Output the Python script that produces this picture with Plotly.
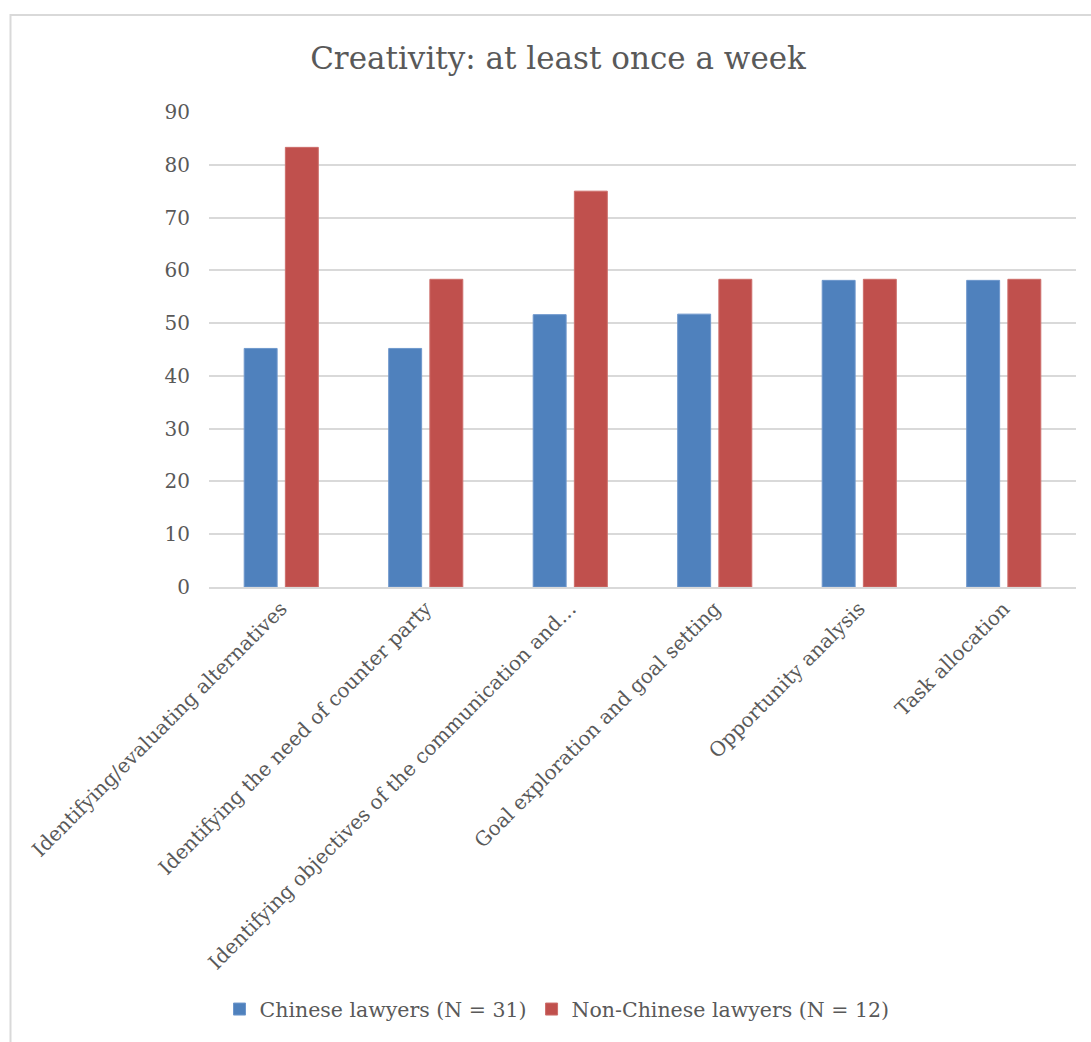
import plotly.graph_objects as go

categories = [
    "Identifying/evaluating alternatives",
    "Identifying the need of counter party",
    "Identifying objectives of the communication and…",
    "Goal exploration and goal setting",
    "Opportunity analysis",
    "Task allocation",
]
chinese = [45.2, 45.2, 51.6, 51.7, 58.1, 58.1]
non_chinese = [83.3, 58.3, 75.0, 58.3, 58.3, 58.3]
series_names = ["Chinese lawyers (N = 31)", "Non-Chinese lawyers (N = 12)"]
title_text = "Creativity: at least once a week"
y_ticks = [0, 10, 20, 30, 40, 50, 60, 70, 80, 90]

FONT = "DejaVu Serif, Liberation Serif, serif"
GRAY = "#595959"

fig = go.Figure()
fig.add_trace(go.Bar(x=categories, y=chinese, name=series_names[0],
                     marker=dict(color="#4F81BD", line=dict(color="#6E97CC", width=1))))
fig.add_trace(go.Bar(x=categories, y=non_chinese, name=series_names[1],
                     marker=dict(color="#C0504D", line=dict(color="#CD6E6B", width=1))))

W, H = 1091, 1042
L, R, T, B = 209, 1076, 112, 589
pw, ph = R - L, B - T

fig.update_layout(
    width=W, height=H,
    margin=dict(l=L, r=W - R, t=T, b=H - B),
    paper_bgcolor="white", plot_bgcolor="white",
    barmode="group", bargap=0.43, bargroupgap=0.2,
    title=dict(text=title_text, x=558 / W, xanchor="center", y=1 - 58 / H, yanchor="middle",
               font=dict(family=FONT, size=31, color=GRAY)),
    font=dict(family=FONT, color=GRAY),
    legend=dict(orientation="h", x=(557 - L) / pw, xref="plot" if False else "paper", xanchor="center",
                y=(B - 1013) / ph, yanchor="middle",
                font=dict(family=FONT, size=20.5, color=GRAY),
                itemwidth=30, traceorder="normal"),
    showlegend=True,
)
fig.update_xaxes(showgrid=False, showline=True, linecolor="#D9D9D9", linewidth=2,
                 ticks="", tickangle=-45, tickfont=dict(family=FONT, size=20, color=GRAY))
fig.update_yaxes(range=[0, 90], tickvals=y_ticks, showgrid=True, gridcolor="#D9D9D9", gridwidth=2,
                 zeroline=False, showline=False, ticks="", ticklen=0, ticklabelstandoff=18,
                 tickfont=dict(family=FONT, size=20, color=GRAY))

# outer chart border
fig.add_shape(type="rect", xref="paper", yref="paper",
              x0=(10.5 - L) / pw, x1=(W + 20 - L) / pw,
              y0=(B - (H + 20)) / ph, y1=(B - 14.5) / ph,
              line=dict(color="#D9D9D9", width=2), fillcolor="rgba(0,0,0,0)", layer="below")

fig.write_html("out.html")
